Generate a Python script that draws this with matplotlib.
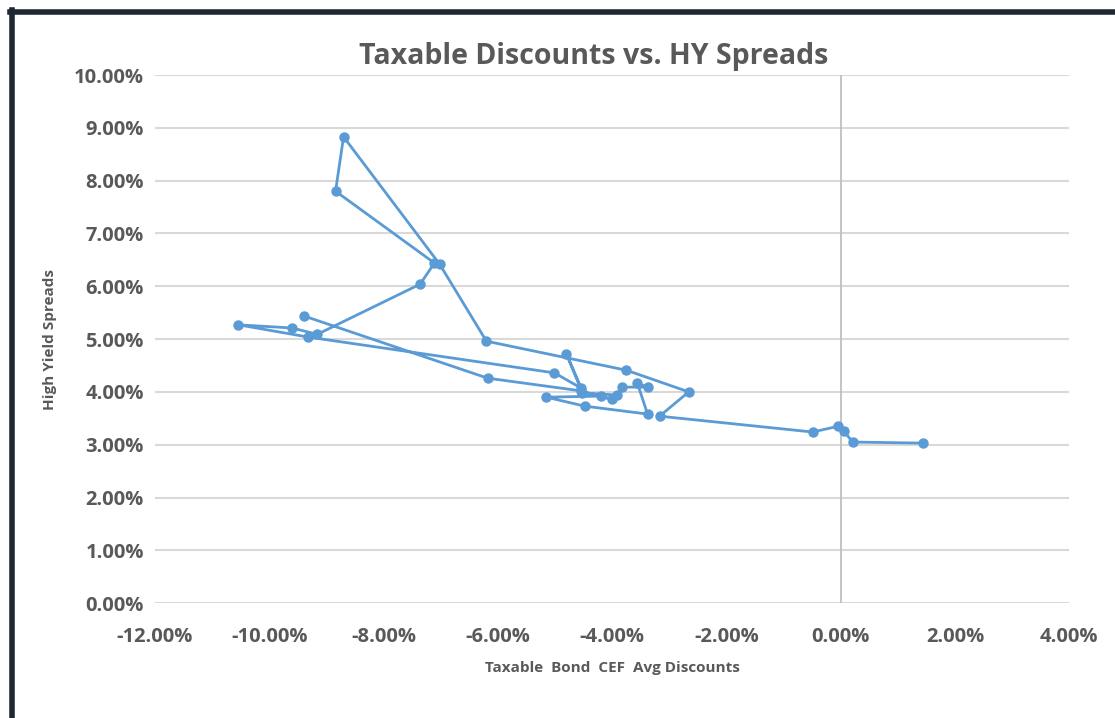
import matplotlib.pyplot as plt
from matplotlib.lines import Line2D
from matplotlib.ticker import FuncFormatter

# taxable bond CEF average discount (%) and high yield spread (%), in series order
discounts = [1.44, 0.21, 0.05, -0.04, -0.49, -3.17, -2.66, -3.75, -6.20, -7.02,
             -8.70, -8.84, -7.11, -7.36, -9.16, -9.60, -10.54, -9.33, -5.01, -4.54,
             -4.80, -4.52, -3.91, -3.82, -3.38, -3.56, -3.38, -4.48, -5.15, -4.19,
             -4.01, -4.55, -6.18, -9.40]
spreads = [3.03, 3.05, 3.26, 3.35, 3.24, 3.54, 4.00, 4.41, 4.96, 6.42,
           8.83, 7.80, 6.44, 6.04, 5.09, 5.21, 5.27, 5.04, 4.36, 4.07,
           4.72, 3.98, 3.94, 4.09, 4.09, 4.17, 3.58, 3.73, 3.90, 3.92,
           3.86, 4.02, 4.26, 5.44]

x_ticks = [-12, -10, -8, -6, -4, -2, 0, 2, 4]
y_ticks = [0, 1, 2, 3, 4, 5, 6, 7, 8, 9, 10]

txt = '#595959'
blue = '#5B9BD5'

plt.rcParams['font.family'] = ['Open Sans', 'DejaVu Sans']

fig = plt.figure(figsize=(11.15, 7.18), dpi=100)
ax = fig.add_axes([0.139, 0.160, 0.820, 0.7355])

ax.set_xlim(-12, 4)
ax.set_ylim(0, 10)
ax.set_xticks(x_ticks)
ax.set_yticks(y_ticks)
pct = FuncFormatter(lambda v, _: f"{v:.2f}%")
ax.xaxis.set_major_formatter(pct)
ax.yaxis.set_major_formatter(pct)

for s in ax.spines.values():
    s.set_visible(False)
ax.grid(axis='y', color='#D9D9D9', linewidth=1.5)
ax.set_axisbelow(True)
ax.axvline(0, color='#BFBFBF', linewidth=1.3, zorder=1)
ax.tick_params(length=0, labelsize=14.5, labelcolor=txt)
ax.tick_params(axis='x', pad=17)
ax.tick_params(axis='y', pad=8)
for lbl in ax.get_xticklabels() + ax.get_yticklabels():
    lbl.set_fontweight('bold')

ax.plot(discounts, spreads, color=blue, linewidth=2, marker='o',
        markersize=6.5, zorder=3)

ax.set_title('Taxable Discounts vs. HY Spreads', fontsize=20.5, fontweight='bold',
             color=txt, pad=8, x=0.48)
ax.set_xlabel('Taxable  Bond  CEF  Avg Discounts', fontsize=11, fontweight='bold',
              color=txt, labelpad=10)
ax.set_ylabel('High Yield Spreads', fontsize=11, fontweight='bold', color=txt,
              labelpad=12)

# dark screenshot frame on the top and left edges
fig.add_artist(Line2D([0.009, 1.0], [0.983, 0.983], color='#1F2733', linewidth=4))
fig.add_artist(Line2D([0.011, 0.011], [0.0, 0.986], color='#1F2733', linewidth=4))

fig.savefig('out.png', dpi=100)
